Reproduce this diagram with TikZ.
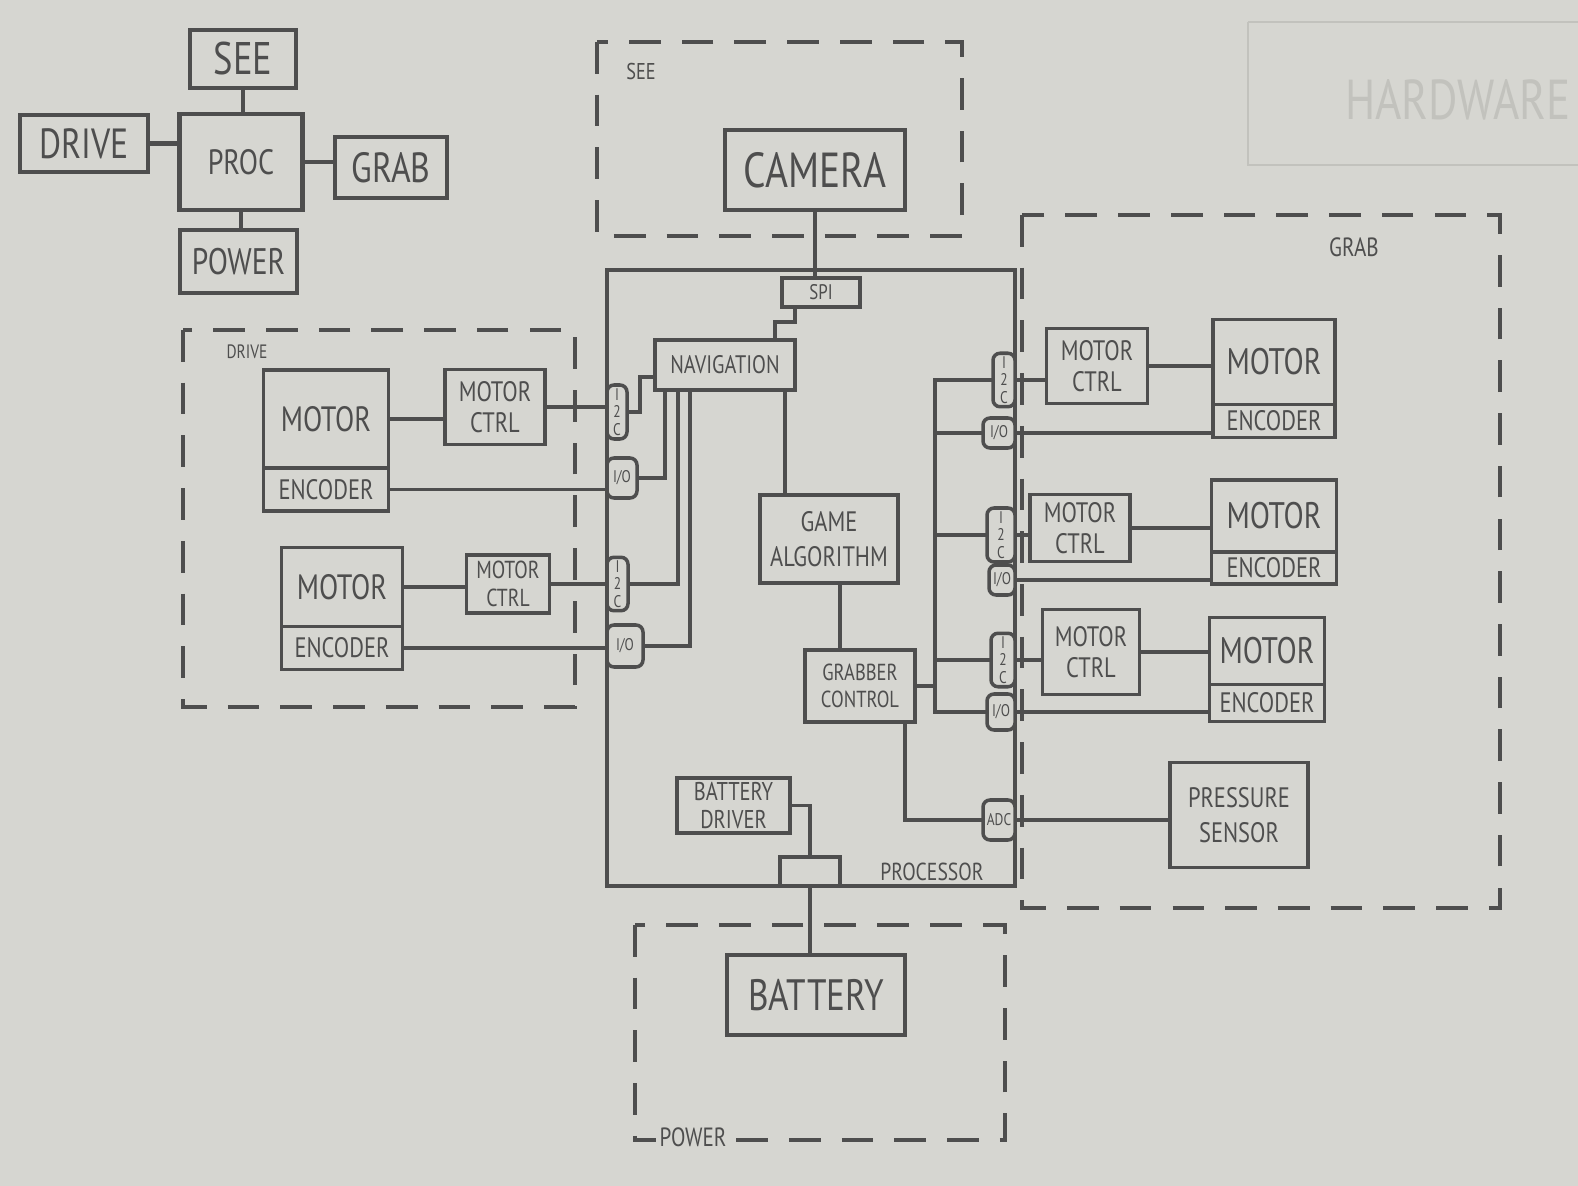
\documentclass[tikz,border=0pt]{standalone}
\usepackage{fontspec}
\newfontfamily\handfont[FakeStretch=0.8]{PT Sans}
\usetikzlibrary{positioning, calc}
\definecolor{paper}{HTML}{D6D6D1}
\definecolor{pencil}{HTML}{4E4E4E}
\definecolor{faint}{HTML}{C2C2BD}
\newcommand{\handfs}[2]{\handfont\fontsize{#1}{#2}\selectfont}
\tikzset{
    % Pencil boxes - plain rectangles
    block/.style={rectangle, draw=pencil, line width=1pt, outer sep=0pt, text=pencil, inner sep=1pt, align=center},
    % Interface ports on the processor edge
    port/.style={block, fill=paper, rounded corners=2pt, font={\handfs{4.8}{4.9}}},
    % Subsystem outlines - long dashes
    subsys/.style={draw=pencil, line width=0.9pt, dash pattern=on 9pt off 6pt},
    % Subsystem captions
    caption/.style={text=pencil, inner sep=1pt},
    % Wires between blocks
    wire/.style={draw=pencil, line width=1pt}
}

\begin{document}
\begin{tikzpicture}[x=0.1mm, y=-0.1mm]
    % --- Paper ---
    \fill[paper] (0,0) rectangle (1578,1186);
    \useasboundingbox (0,0) rectangle (1578,1186);

    % --- Faint heading from the page behind ---
    \draw[faint, line width=0.6pt] (1248,22) -- (1578,22);
    \draw[faint, line width=0.6pt] (1248,22) -- (1248,165) -- (1578,165);
    \node[anchor=west, text=faint, font={\handfs{16}{17}}] (hardware) at (1333,100) {HARDWARE};

    % --- Overview sketch ---
    \node[block, line width=1.2pt, minimum width=12.3mm, minimum height=9.6mm, font={\handfs{10}{11}}] (proc) at (241,162) {PROC};
    \node[block, line width=1.2pt, minimum width=10.6mm, minimum height=5.8mm, font={\handfs{13}{14}}] (see) at (243,59) {SEE};
    \node[block, line width=1.2pt, minimum width=12.8mm, minimum height=5.7mm, font={\handfs{12}{13}}] (drive) at (84,143.5) {DRIVE};
    \node[block, line width=1.2pt, minimum width=11.2mm, minimum height=6.1mm, font={\handfs{12}{13}}] (grab) at (391,167.5) {GRAB};
    \node[block, line width=1.2pt, minimum width=11.7mm, minimum height=6.3mm, font={\handfs{10.5}{11}}] (power) at (238.5,261.5) {POWER};
    \draw[wire, line width=1.2pt] (see.south) -- (see.south |- proc.north);
    \draw[wire, line width=1.2pt] (drive.east) -- (drive.east -| proc.west);
    \draw[wire, line width=1.2pt] (proc.east) -- (proc.east -| grab.west);
    \draw[wire, line width=1.2pt] (proc.south) -- (proc.south |- power.north);

    % --- Subsystem outlines ---
    \draw[subsys] (597,42) rectangle (962,236);
    \draw[subsys] (183,330) rectangle (575,707);
    \draw[subsys] (1022,215) rectangle (1500,908);
    \draw[subsys] (635,925) rectangle (1005,1140);
    \node[caption, font={\handfs{6.5}{7}}] (seecap) at (641,72) {SEE};
    \node[caption, font={\handfs{5.5}{6}}] (drivecap) at (247,352) {DRIVE};
    \node[caption, font={\handfs{7.5}{8}}] (grabcap) at (1354,247) {GRAB};
    \node[caption, fill=paper, font={\handfs{7.5}{8}}] (powercap) at (693,1137) {POWER};

    % --- See ---
    \node[block, minimum width=18mm, minimum height=8mm, font={\handfs{14}{15}}] (camera) at (815,170) {CAMERA};

    % --- Processor ---
    \node[block, minimum width=40.8mm, minimum height=61.6mm] (processor) at (811,578) {};
    \node[caption, font={\handfs{7}{8}}] (proccap) at (932,872) {PROCESSOR};
    \node[block, fill=paper, minimum width=7.8mm, minimum height=2.9mm, font={\handfs{6}{7}}] (spi) at (821,292.5) {SPI};
    \node[block, minimum width=14mm, minimum height=5mm, font={\handfs{7.2}{8}}] (nav) at (725,365) {NAVIGATION};
    \node[block, minimum width=13.8mm, minimum height=8.8mm, font={\handfs{8}{10}}] (game) at (829,539) {GAME\\ALGORITHM};
    \node[block, minimum width=11mm, minimum height=7.2mm, font={\handfs{6.6}{7.5}}] (grabber) at (860,686) {GRABBER\\CONTROL};
    \node[block, minimum width=11.3mm, minimum height=5.5mm, font={\handfs{7.3}{7.8}}] (batdrv) at (733.5,805.5) {BATTERY\\DRIVER};
    \node[block, fill=paper, minimum width=6mm, minimum height=2.9mm] (pwrport) at (810,871.5) {};

    % left ports
    \node[port, minimum width=2mm, minimum height=5.4mm] (i2cL1) at (617,412) {I\\2\\C};
    \node[port, minimum width=3mm, minimum height=4mm] (ioL1) at (622,478) {I/O};
    \node[port, minimum width=2.1mm, minimum height=4.8mm] (i2cL2) at (617.5,584) {I\\2\\C};
    \node[port, minimum width=3.6mm, minimum height=4.2mm] (ioL2) at (625,646) {I/O};

    % right ports
    \node[port, minimum width=2.2mm, minimum height=5mm] (i2cR1) at (1004,380) {I\\2\\C};
    \node[port, minimum width=3.2mm, minimum height=3mm] (ioR1) at (999,433) {I/O};
    \node[port, minimum width=2.8mm, minimum height=5.4mm] (i2cR2) at (1001,535) {I\\2\\C};
    \node[port, minimum width=2.6mm, minimum height=3mm] (ioR2) at (1002,580) {I/O};
    \node[port, minimum width=2.4mm, minimum height=4.6mm] (i2cR3) at (1003,660) {I\\2\\C};
    \node[port, minimum width=2.8mm, minimum height=3.6mm] (ioR3) at (1001,712) {I/O};
    \node[port, minimum width=3.2mm, minimum height=4mm] (adc) at (999,820) {ADC};

    % --- Power ---
    \node[block, minimum width=17.8mm, minimum height=8mm, font={\handfs{12.5}{13}}] (battery) at (816,995) {BATTERY};

    % --- Drive ---
    \node[block, minimum width=12.5mm, minimum height=9.8mm, font={\handfs{10}{11}}] (dmotorA) at (326,419) {MOTOR};
    \node[block, below=0pt of dmotorA, minimum width=12.5mm, minimum height=4.3mm, font={\handfs{8}{9}}] (dencA) {ENCODER};
    \node[block, minimum width=10mm, minimum height=7.5mm, font={\handfs{8}{9}}] (dctrlA) at (495,407) {MOTOR\\CTRL};
    \node[block, minimum width=12.1mm, minimum height=7.9mm, font={\handfs{10}{11}}] (dmotorB) at (342,587) {MOTOR};
    \node[block, below=0pt of dmotorB, minimum width=12.1mm, minimum height=4.3mm, font={\handfs{8}{9}}] (dencB) {ENCODER};
    \node[block, minimum width=8.3mm, minimum height=5.8mm, font={\handfs{7}{7.8}}] (dctrlB) at (508,584) {MOTOR\\CTRL};

    % --- Grab ---
    \node[block, minimum width=10.1mm, minimum height=7.5mm, font={\handfs{8}{9}}] (rctrlA) at (1097,366) {MOTOR\\CTRL};
    \node[block, minimum width=12.2mm, minimum height=8.5mm, font={\handfs{10.5}{11}}] (rmotorA) at (1274,362) {MOTOR};
    \node[block, below=0pt of rmotorA, minimum width=12.2mm, minimum height=3.3mm, font={\handfs{8}{9}}] (rencA) {ENCODER};
    \node[block, minimum width=10mm, minimum height=6.7mm, font={\handfs{8}{9}}] (rctrlB) at (1080,528) {MOTOR\\CTRL};
    \node[block, minimum width=12.5mm, minimum height=7.2mm, font={\handfs{10.5}{11}}] (rmotorB) at (1274,516) {MOTOR};
    \node[block, below=0pt of rmotorB, minimum width=12.5mm, minimum height=3.2mm, font={\handfs{8}{9}}] (rencB) {ENCODER};
    \node[block, minimum width=9.7mm, minimum height=8.5mm, font={\handfs{8}{9}}] (rctrlC) at (1091,652) {MOTOR\\CTRL};
    \node[block, minimum width=11.5mm, minimum height=6.7mm, font={\handfs{10.5}{11}}] (rmotorC) at (1267,651) {MOTOR};
    \node[block, below=0pt of rmotorC, minimum width=11.5mm, minimum height=3.7mm, font={\handfs{8}{9}}] (rencC) {ENCODER};
    \node[block, minimum width=13.8mm, minimum height=10.5mm, font={\handfs{8}{10}}] (pressure) at (1239,815) {PRESSURE\\SENSOR};

    % --- Wiring: camera and navigation ---
    \draw[wire] (camera.south) -- (camera.south |- spi.north);
    \draw[wire] ($(spi.south west)+(13,0)$) -- ++(0,15) -| ($(nav.north)+(50,0)$);
    \draw[wire] ($(nav.west)+(0,12)$) -- ++(-15,0) |- (i2cL1.east);
    \draw[wire] ($(nav.south west)+(10,0)$) |- (ioL1.east);
    \draw[wire] ($(nav.south west)+(23,0)$) |- (i2cL2.east);
    \draw[wire] ($(nav.south west)+(35,0)$) |- (ioL2.east);
    \coordinate (navout) at ($(nav.south east)+(-10,0)$);
    \draw[wire] (navout) -- (navout |- game.north);
    \coordinate (gameout) at ($(game.south)+(11,0)$);
    \draw[wire] (gameout) -- (gameout |- grabber.north);

    % --- Wiring: grabber bus ---
    \coordinate (bus) at (935,380);
    \draw[wire] (i2cR1.west) -- (i2cR1.west -| bus) -- (ioR3.west -| bus) -- (ioR3.west);
    \foreach \p in {ioR1, i2cR2, i2cR3}
        \draw[wire] (\p.west) -- (\p.west -| bus);
    \draw[wire] (grabber.east) -- (grabber.east -| bus);
    \coordinate (grabout) at ($(grabber.south east)+(-10,0)$);
    \draw[wire] (grabout) |- (adc.west);

    % --- Wiring: power ---
    \draw[wire] (batdrv.east) -| (pwrport.north);
    \draw[wire] (pwrport.south) -- (pwrport.south |- battery.north);

    % --- Wiring: drive side ---
    \draw[wire] (dmotorA.east) -- (dmotorA.east -| dctrlA.west);
    \draw[wire] (dctrlA.east) -- (dctrlA.east -| i2cL1.west);
    \draw[wire] (dencA.east) -- (dencA.east -| ioL1.west);
    \draw[wire] (dmotorB.east) -- (dmotorB.east -| dctrlB.west);
    \draw[wire] (dctrlB.east) -- (dctrlB.east -| i2cL2.west);
    \draw[wire] (dencB.east) -- (dencB.east -| ioL2.west);

    % --- Wiring: grab side ---
    \draw[wire] (i2cR1.east) -- (i2cR1.east -| rctrlA.west);
    \draw[wire] (rctrlA.east) -- (rctrlA.east -| rmotorA.west);
    \draw[wire] (ioR1.east) -- (ioR1.east -| rencA.west);
    \draw[wire] (i2cR2.east) -- (i2cR2.east -| rctrlB.west);
    \draw[wire] (rctrlB.east) -- (rctrlB.east -| rmotorB.west);
    \draw[wire] (ioR2.east) -- (ioR2.east -| rencB.west);
    \draw[wire] (i2cR3.east) -- (i2cR3.east -| rctrlC.west);
    \draw[wire] (rctrlC.east) -- (rctrlC.east -| rmotorC.west);
    \draw[wire] (ioR3.east) -- (ioR3.east -| rencC.west);
    \draw[wire] (adc.east) -- (adc.east -| pressure.west);
\end{tikzpicture}
\end{document}
